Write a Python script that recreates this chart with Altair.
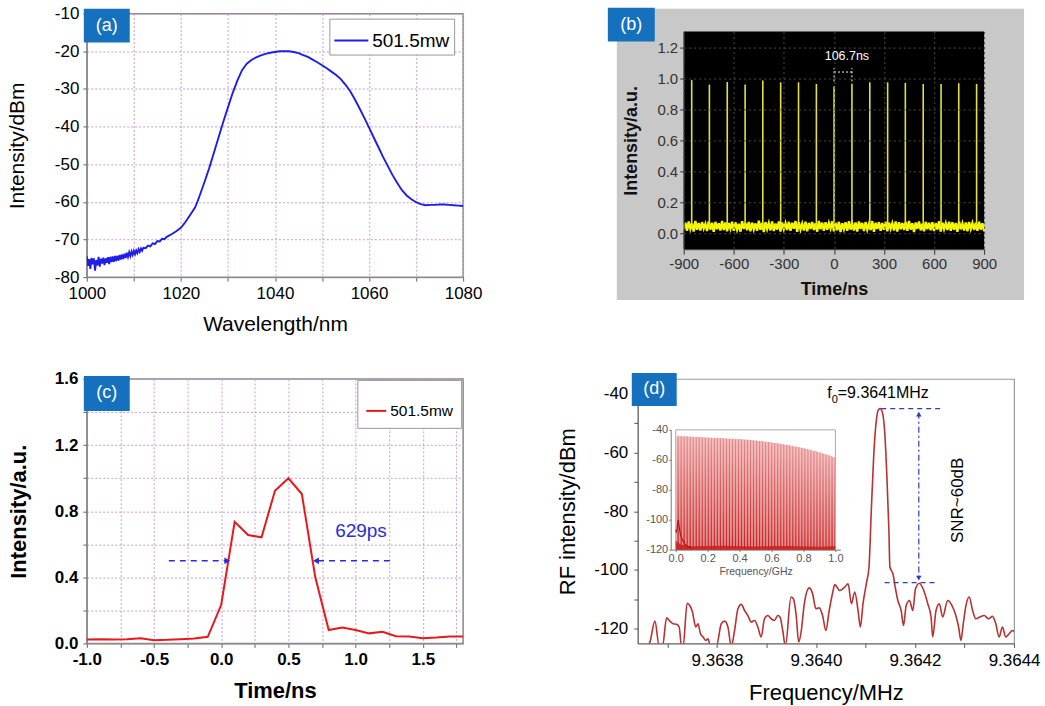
import altair as alt
import pandas as pd

FONT = "Liberation Sans"
LABEL_BLUE = "#1570be"
GRID_PINK = "#c99bd0"
MINUS = "\u2212"

panel_labels = ["(a)", "(b)", "(c)", "(d)"]
legend_label = "501.5mw"

# ---------------- (a) optical spectrum ----------------
a_wl = [1000 + 0.25 * i for i in range(49)] + [
    1012.5, 1013, 1013.5, 1014, 1014.5, 1015, 1015.5, 1016, 1016.5, 1017,
    1018, 1019, 1020, 1021, 1022, 1023, 1023.5, 1024, 1025, 1026, 1027, 1028,
    1029, 1030, 1031, 1032, 1033, 1034, 1035, 1036, 1037, 1038, 1039, 1040,
    1041, 1042, 1043, 1044, 1045, 1046, 1047, 1048, 1049, 1050, 1051, 1052,
    1053, 1054, 1055, 1056, 1057, 1058, 1059, 1060, 1061, 1062, 1063, 1064,
    1065, 1066, 1067, 1068, 1069, 1070, 1071, 1072, 1073, 1074, 1075, 1076,
    1077, 1078, 1079, 1080]
a_db = [
    -74.5, -77.0, -75.2, -77.8, -74.9, -76.6, -75.0, -78.3, -75.5, -76.9,
    -74.6, -77.2, -75.1, -76.4, -74.8, -76.8, -75.0, -76.2, -74.7, -76.5,
    -74.6, -76.0, -74.5, -75.9, -74.4, -75.7, -74.3, -75.6, -74.1, -75.3,
    -74.0, -75.2, -73.8, -74.9, -73.5, -74.6, -73.4, -74.4, -73.2, -74.1,
    -73.0, -73.9, -72.9, -73.6, -72.6, -73.3, -72.4, -73.0, -72.2,
    -72.3, -71.6, -71.8, -71.0, -71.2, -70.4, -70.5, -69.8, -69.9, -69.3,
    -68.6, -67.8, -66.9, -65.3, -63.4, -61.5, -60.0, -58.3, -54.8, -51.1,
    -47.0, -42.9, -38.8, -34.9, -31.1, -27.8, -25.0, -23.3, -22.3, -21.6,
    -21.1, -20.7, -20.4, -20.2, -20.0, -19.95, -20.0, -20.2, -20.5, -21.0,
    -21.5, -22.2, -22.9, -23.7, -24.5, -25.4, -26.3, -27.4, -28.9, -30.6,
    -32.8, -35.2, -37.7, -40.3, -42.9, -45.5, -48.1, -50.5, -52.9, -55.0,
    -56.9, -58.3, -59.3, -60.1, -60.6, -60.9, -60.8, -60.8, -60.7, -60.7,
    -60.8, -60.9, -61.0, -61.1]

# ---------------- (b) pulse train ----------------
b_pulse_t = [-852, -746, -639, -532, -426, -319, -212, -105, 1, 108, 215,
             322, 428, 535, 642, 748, 855]
b_pulse_h = [0.988, 0.959, 0.976, 0.959, 0.985, 0.974, 0.974, 0.963, 0.948,
             0.965, 0.974, 0.974, 0.970, 0.963, 0.963, 0.968, 0.963]
b_noise_t = list(range(-900, 901, 10))
b_noise_v = [
    0.028, 0.071, 0.019, 0.078, 0.031, 0.066, 0.014, 0.082, 0.025, 0.069,
    0.021, 0.074, 0.033, 0.063, 0.017, 0.079, 0.026, 0.070, 0.012, 0.076,
    0.029, 0.067, 0.020, 0.081, 0.024, 0.072, 0.016, 0.068, 0.032, 0.077,
    0.018, 0.073, 0.027, 0.064, 0.013, 0.080, 0.030, 0.069, 0.022, 0.075,
    0.015, 0.071, 0.028, 0.066, 0.019, 0.083, 0.025, 0.070, 0.011, 0.074,
    0.031, 0.068, 0.021, 0.078, 0.017, 0.065, 0.026, 0.079, 0.014, 0.072,
    0.029, 0.067, 0.023, 0.076, 0.018, 0.070, 0.032, 0.081, 0.012, 0.073,
    0.027, 0.064, 0.020, 0.077, 0.016, 0.069, 0.030, 0.075, 0.024, 0.066,
    0.013, 0.082, 0.028, 0.071, 0.019, 0.074, 0.025, 0.068, 0.033, 0.079,
    0.015, 0.070, 0.022, 0.076, 0.010, 0.067, 0.029, 0.073, 0.018, 0.080,
    0.026, 0.065, 0.021, 0.072, 0.014, 0.078, 0.031, 0.069, 0.017, 0.075,
    0.027, 0.063, 0.023, 0.081, 0.012, 0.070, 0.030, 0.074, 0.019, 0.068,
    0.025, 0.077, 0.016, 0.071, 0.032, 0.066, 0.020, 0.079, 0.013, 0.073,
    0.028, 0.069, 0.024, 0.075, 0.018, 0.082, 0.026, 0.067, 0.011, 0.072,
    0.031, 0.078, 0.021, 0.064, 0.015, 0.076, 0.029, 0.070, 0.022, 0.074,
    0.017, 0.068, 0.027, 0.080, 0.014, 0.071, 0.030, 0.066, 0.023, 0.077,
    0.019, 0.073, 0.025, 0.069, 0.012, 0.079, 0.028, 0.065, 0.020, 0.072,
    0.016, 0.075, 0.031, 0.068, 0.024, 0.070, 0.018, 0.077, 0.026, 0.067,
    0.015]
b_period_label = "106.7ns"

# ---------------- (c) pulse profile ----------------
c_t = [-1.0, -0.9, -0.8, -0.7, -0.6, -0.5, -0.4, -0.3, -0.2, -0.1, 0.0, 0.1,
       0.2, 0.3, 0.4, 0.5, 0.6, 0.7, 0.8, 0.9, 1.0, 1.1, 1.2, 1.3, 1.4, 1.5,
       1.6, 1.7, 1.8]
c_i = [0.024, 0.026, 0.024, 0.026, 0.032, 0.020, 0.022, 0.026, 0.030, 0.040,
       0.234, 0.736, 0.656, 0.642, 0.924, 0.999, 0.904, 0.400, 0.081, 0.097,
       0.081, 0.061, 0.071, 0.044, 0.042, 0.032, 0.036, 0.042, 0.042]
c_width_label = "629ps"

# ---------------- (d) RF spectrum ----------------
d_f = [9.363658, 9.3636646, 9.3636746, 9.3636833, 9.36369, 9.3636981,
       9.3637048, 9.3637115, 9.3637182, 9.3637236, 9.3637283, 9.3637316,
       9.3637397, 9.363745, 9.3637504, 9.3637571, 9.3637618, 9.3637665,
       9.3637719, 9.3637772, 9.3637819, 9.3637866, 9.3637987, 9.3638087,
       9.3638154, 9.3638221, 9.3638288, 9.3638355, 9.3638423, 9.363849,
       9.3638557, 9.3638624, 9.3638691, 9.3638758, 9.3638825, 9.3638892,
       9.3638959, 9.3639026, 9.3639093, 9.363916, 9.3639227, 9.3639274,
       9.3639328, 9.3639381, 9.3639495, 9.3639542, 9.3639596, 9.363965,
       9.3639703, 9.3639763, 9.3639864, 9.3639931, 9.3639998, 9.3640064,
       9.3640132, 9.3640199, 9.3640266, 9.3640333, 9.364038, 9.364048,
       9.364058, 9.3640648, 9.3640715, 9.3640782, 9.3640849, 9.3640896,
       9.3640949, 9.3641016, 9.364107, 9.3641117, 9.3641164, 9.3641218,
       9.3641264, 9.3641298, 9.3641338, 9.3641385, 9.3641432, 9.3641472,
       9.3641492, 9.3641519, 9.3641553, 9.3641599, 9.3641653, 9.364172,
       9.3641767, 9.3641821, 9.3641888, 9.3641955, 9.3642009, 9.3642089,
       9.3642176, 9.3642257, 9.3642324, 9.3642357, 9.3642424, 9.3642491,
       9.3642558, 9.3642659, 9.3642746, 9.3642813, 9.364288, 9.3642927,
       9.3642974, 9.3643028, 9.3643095, 9.3643162, 9.3643229, 9.3643309,
       9.3643396, 9.3643483, 9.3643564, 9.3643631, 9.3643698, 9.3643765,
       9.3643832, 9.36439, 9.3643966, 9.3644]
d_db = [-127, -124.5, -117.4, -126, -126, -116.3, -117.4, -118.3, -118.5,
        -119.4, -126, -126, -111.3, -112.1, -114.3, -119.4, -118.3, -121.7,
        -122.8, -124, -123.4, -126, -126, -118.3, -117.4, -119.4, -126,
        -120.6, -113.2, -111.7, -113.8, -115.5, -117.7, -117.2, -119.4,
        -122.8, -116.6, -115.5, -116.6, -117.2, -115.5, -116.1, -120.6, -126,
        -109.2, -109.8, -114.9, -124.5, -120.6, -111.5, -106.1, -108.1,
        -113.2, -112.9, -115.5, -120.6, -113.8, -108, -105, -107, -105.8,
        -104.7, -111.5, -107.5, -113.8, -119.4, -111.5, -104.7, -99, -79.7,
        -61.6, -49.1, -45.4, -45.1, -46.2, -52.5, -68.4, -86.5, -99, -100.1,
        -101.3, -105.8, -110.4, -113.8, -118.9, -112.1, -110.4, -113.8,
        -106.4, -104.5, -107, -111.5, -116, -122.8, -113.8, -111.5, -116,
        -110.4, -112.1, -114.9, -119.4, -124, -118.3, -112.1, -109.2, -113.8,
        -116.6, -116, -115.5, -116.6, -115.8, -118.3, -122.8, -119.4, -122.8,
        -121.7, -120.6, -121]
d_f0_label = "=9.3641MHz"
d_snr_label = "SNR~60dB"

# inset: RF comb 0-1 GHz
inset_g = [
    0.0094, 0.0187, 0.0281, 0.0375, 0.0468, 0.0562, 0.0655, 0.0749, 0.0843, 0.0936,
    0.1030, 0.1124, 0.1217, 0.1311, 0.1405, 0.1498, 0.1592, 0.1686, 0.1779, 0.1873,
    0.1966, 0.2060, 0.2154, 0.2247, 0.2341, 0.2435, 0.2528, 0.2622, 0.2716, 0.2809,
    0.2903, 0.2997, 0.3090, 0.3184, 0.3277, 0.3371, 0.3465, 0.3558, 0.3652, 0.3746,
    0.3839, 0.3933, 0.4027, 0.4120, 0.4214, 0.4307, 0.4401, 0.4495, 0.4588, 0.4682,
    0.4776, 0.4869, 0.4963, 0.5057, 0.5150, 0.5244, 0.5338, 0.5431, 0.5525, 0.5618,
    0.5712, 0.5806, 0.5899, 0.5993, 0.6087, 0.6180, 0.6274, 0.6368, 0.6461, 0.6555,
    0.6649, 0.6742, 0.6836, 0.6929, 0.7023, 0.7117, 0.7210, 0.7304, 0.7398, 0.7491,
    0.7585, 0.7679, 0.7772, 0.7866, 0.7960, 0.8053, 0.8147, 0.8240, 0.8334, 0.8428,
    0.8521, 0.8615, 0.8709, 0.8802, 0.8896, 0.8990, 0.9083, 0.9177, 0.9270, 0.9364,
    0.9458, 0.9551, 0.9645, 0.9739, 0.9832, 0.9926]
inset_p = [
    -44.2, -44.0, -44.3, -44.1, -44.4, -44.3, -44.5, -44.2, -44.6, -44.4,
    -44.5, -44.7, -44.6, -44.8, -44.6, -44.9, -44.8, -45.0, -44.9, -45.1,
    -45.0, -45.2, -45.1, -45.3, -45.2, -45.4, -45.3, -45.5, -45.4, -45.6,
    -45.5, -45.7, -45.6, -45.8, -45.7, -45.9, -45.8, -46.0, -45.9, -46.1,
    -46.0, -46.2, -46.1, -46.3, -46.3, -46.5, -46.4, -46.6, -46.6, -46.8,
    -46.8, -47.0, -47.0, -47.2, -47.2, -47.4, -47.4, -47.6, -47.7, -47.9,
    -47.9, -48.1, -48.2, -48.4, -48.5, -48.7, -48.8, -49.0, -49.1, -49.3,
    -49.4, -49.6, -49.8, -50.0, -50.1, -50.3, -50.5, -50.7, -50.9, -51.1,
    -51.3, -51.5, -51.7, -51.9, -52.1, -52.3, -52.6, -52.8, -53.1, -53.3,
    -53.6, -53.9, -54.1, -54.4, -54.7, -55.0, -55.3, -55.6, -55.9, -56.2,
    -56.5, -56.8, -57.2, -57.5, -57.9, -58.3]
inset_floor_g = [0.0, 0.03, 0.1, 0.3, 0.5, 0.7, 0.9, 1.0]
inset_floor_p = [-114.0, -116.5, -117.8, -117.4, -117.9, -117.5, -118.0, -117.8]
inset_bump_g = [0.0, 0.004, 0.009, 0.013, 0.017, 0.022, 0.03, 0.04, 0.055, 0.075, 0.1]
inset_bump_p = [-107, -108, -106, -101, -100.5, -105, -110, -113, -116, -118, -119]

one = pd.DataFrame({"k": [0]})


def deco_rect(x1, x2, y1, y2, color, opacity=1.0):
    return alt.Chart(one).mark_rect(color=color, opacity=opacity).encode(
        x=alt.value(x1), x2=alt.value(x2), y=alt.value(y1), y2=alt.value(y2))


def deco_text(txt, x, y, size=18, color="white"):
    return alt.Chart(one).mark_text(
        text=txt, fontSize=size, color=color, align="center",
        baseline="middle").encode(x=alt.value(x), y=alt.value(y))


def hyph(expr):
    return "replace(" + expr + ", '" + MINUS + "', '-')"


# ======================= panel (a) =======================
df_a = pd.DataFrame({"wl": a_wl, "db": a_db, "s": legend_label})
ax = alt.X("wl:Q", scale=alt.Scale(domain=[1000, 1080], nice=False, zero=False),
           axis=alt.Axis(values=list(range(1000, 1081, 10)),
                         labelExpr="datum.value % 20 == 0 ? '' + datum.value : ''",
                         grid=True, gridColor=GRID_PINK, gridDash=[2, 2],
                         tickSize=4, tickColor="#666", domainColor="#888",
                         labelFontSize=17, labelColor="black", labelPadding=4,
                         labelFlush=False, labelOverlap=False,
                         title="Wavelength/nm", titleFontSize=21,
                         titleFontWeight="normal", titleColor="black",
                         titleX=188.5, titleY=47, titleBaseline="middle"))
ay = alt.Y("db:Q", scale=alt.Scale(domain=[-80, -10], nice=False, zero=False),
           axis=alt.Axis(values=list(range(-80, -9, 10)),
                         labelExpr="'' + datum.value",
                         grid=True, gridColor=GRID_PINK, gridDash=[2, 2],
                         tickSize=4, tickColor="#666", domainColor="#888",
                         labelFontSize=17, labelColor="black", labelPadding=4,
                         labelOverlap=False,
                         title="Intensity/dBm", titleFontSize=21,
                         titleFontWeight="normal", titleColor="black",
                         titleX=-69, titleY=132, titleBaseline="middle"))
line_a = alt.Chart(df_a).mark_line(strokeWidth=1.9, clip=True).encode(
    x=ax, y=ay,
    color=alt.Color("s:N", scale=alt.Scale(range=["#1e1ee6"]),
                    legend=alt.Legend(title=None, orient="none", legendX=243,
                                      legendY=5, padding=4, strokeColor="#999",
                                      fillColor="white", labelFontSize=19,
                                      labelColor="black", labelOffset=3,
                                      symbolType="stroke", symbolSize=1156,
                                      symbolStrokeWidth=2)))
panel_a = alt.layer(
    deco_rect(-86, 959, -12, 694, "white", 0.0),
    line_a,
    deco_rect(-3, 43, -5, 29, LABEL_BLUE),
    deco_text(panel_labels[0], 20, 12),
).properties(width=377, height=264,
             view=alt.ViewBackground(stroke="#888", strokeWidth=1.5))

# ======================= panel (b) =======================
b_xscale = alt.Scale(domain=[-900, 900], nice=False, zero=False)
b_xaxis = alt.Axis(values=[-900, -600, -300, 0, 300, 600, 900],
                   labelExpr="'' + datum.value",
                   grid=True, gridColor="#4a4a4a", gridDash=[2, 3],
                   tickSize=5, tickColor="#333", domainColor="#333",
                   labelFontSize=15, labelColor="#333", labelPadding=2,
                   labelFlush=False, labelOverlap=False,
                   title="Time/ns", titleFontSize=18, titleFontWeight="bold",
                   titleColor="#111", titleX=150.5, titleY=40,
                   titleBaseline="middle", zindex=1)
b_yscale = alt.Scale(domain=[-0.1, 1.3], nice=False, zero=False)
b_yaxis = alt.Axis(values=[0, 0.2, 0.4, 0.6, 0.8, 1.0, 1.2], format=".1f",
                   grid=True, gridColor="#4a4a4a", gridDash=[2, 3],
                   tickSize=4, tickColor="#333", domainColor="#333",
                   labelFontSize=15, labelColor="#333", labelPadding=2,
                   labelOverlap=False,
                   title="Intensity/a.u.", titleFontSize=18,
                   titleFontWeight="bold", titleColor="#111",
                   titleX=-52, titleY=109, titleBaseline="middle", zindex=1)
bx = alt.X("t:Q", scale=b_xscale, axis=b_xaxis)
by = alt.Y("v:Q", scale=b_yscale, axis=b_yaxis)
df_bn = pd.DataFrame({"t": b_noise_t, "v": b_noise_v})
df_bp = pd.DataFrame({"t": b_pulse_t, "v": b_pulse_h, "v0": 0.045})
noise_b = alt.Chart(df_bn).mark_line(color="#f6f600", strokeWidth=2.4).encode(x=bx, y=by)
pulses_b = alt.Chart(df_bp).mark_rule(color="#e2e23a", strokeWidth=1.6).encode(
    x=bx, y=alt.Y("v0:Q", scale=b_yscale, axis=b_yaxis), y2="v:Q")
df_bann = pd.DataFrame({"t": [1], "t2": [108], "v": [1.04]})
ann_b = alt.Chart(df_bann).mark_rule(color="white", strokeDash=[2, 2], strokeWidth=1).encode(
    x=bx, x2="t2:Q", y=by)
df_bend = pd.DataFrame({"t": [1, 108], "v": [0.98, 0.98], "v2": [1.065, 1.065]})
ends_b = alt.Chart(df_bend).mark_rule(color="white", strokeDash=[2, 2], strokeWidth=1).encode(
    x=bx, y=by, y2="v2:Q")
df_btxt = pd.DataFrame({"t": [78], "v": [1.146], "label": [b_period_label]})
txt_b = alt.Chart(df_btxt).mark_text(color="white", fontSize=12.5).encode(
    x=bx, y=by, text="label:N")
panel_b = alt.layer(
    deco_rect(-67, 341, -23, 269, "#c8c8c8"),
    deco_rect(0, 301, 0, 218, "black"),
    noise_b, pulses_b, ann_b, ends_b, txt_b,
    deco_rect(-76, -29, -24, 10, LABEL_BLUE),
    deco_text(panel_labels[1], -52.5, -7),
).properties(width=301, height=218)

spacer = alt.Chart(one).mark_point(opacity=0).encode(
    x=alt.value(0), y=alt.value(0)).properties(width=301, height=1)

# ======================= panel (c) =======================
cx = alt.X("t:Q", scale=alt.Scale(domain=[-1.0, 1.8], nice=False, zero=False),
           axis=alt.Axis(values=[-1.0, -0.75, -0.5, -0.25, 0.0, 0.25, 0.5, 0.75,
                                 1.0, 1.25, 1.5, 1.75],
                         labelExpr="round(datum.value * 4) % 2 == 0 ? "
                                   + hyph("format(datum.value, '.1f')") + " : ''",
                         grid=True, gridColor=GRID_PINK, gridDash=[2, 2],
                         tickSize=4, tickColor="#666", domainColor="#888",
                         labelFontSize=17, labelFontWeight="bold",
                         labelColor="black", labelPadding=4,
                         labelFlush=False, labelOverlap=False,
                         title="Time/ns", titleFontSize=22, titleFontWeight="bold",
                         titleColor="black", titleX=188.5, titleY=47,
                         titleBaseline="middle"))
cy = alt.Y("i:Q", scale=alt.Scale(domain=[0, 1.6], nice=False, zero=False),
           axis=alt.Axis(values=[0, 0.2, 0.4, 0.6, 0.8, 1.0, 1.2, 1.4, 1.6],
                         labelExpr="round(datum.value * 5) % 2 == 0 ? "
                                   "format(datum.value, '.1f') : ''",
                         grid=True, gridColor=GRID_PINK, gridDash=[2, 2],
                         tickSize=4, tickColor="#666", domainColor="#888",
                         labelFontSize=17, labelFontWeight="bold",
                         labelColor="black", labelPadding=5, labelOverlap=False,
                         title="Intensity/a.u.", titleFontSize=22,
                         titleFontWeight="bold", titleColor="black",
                         titleX=-68, titleY=132.5, titleBaseline="middle"))
df_c = pd.DataFrame({"t": c_t, "i": c_i, "s": legend_label})
line_c = alt.Chart(df_c).mark_line(strokeWidth=2).encode(
    x=cx, y=cy,
    color=alt.Color("s:N", scale=alt.Scale(range=["#e8191b"]),
                    legend=alt.Legend(title=" ", titleFontSize=10, titlePadding=2,
                                      orient="none", legendX=271, legendY=1,
                                      padding=8, strokeColor="#999",
                                      fillColor="white", labelFontSize=15.5,
                                      labelColor="black", labelOffset=3,
                                      symbolType="stroke", symbolSize=400,
                                      symbolStrokeWidth=2)))
df_carrow = pd.DataFrame({"t": [-0.39, 1.255], "t2": [0.03, 0.72], "i": [0.5, 0.5]})
arrows_c = alt.Chart(df_carrow).mark_rule(color="#2a2ae0", strokeDash=[6, 5],
                                          strokeWidth=1.6).encode(x=cx, x2="t2:Q", y=cy)
head_r = alt.Chart(pd.DataFrame({"t": [0.045], "i": [0.5]})).mark_point(
    shape="triangle-right", filled=True, size=45, color="#2a2ae0", opacity=1).encode(x=cx, y=cy)
head_l = alt.Chart(pd.DataFrame({"t": [0.705], "i": [0.5]})).mark_point(
    shape="triangle-left", filled=True, size=45, color="#2a2ae0", opacity=1).encode(x=cx, y=cy)
txt_c = alt.Chart(pd.DataFrame({"t": [1.04], "i": [0.68], "label": [c_width_label]})).mark_text(
    color="#2a2ae0", fontSize=19).encode(x=cx, y=cy, text="label:N")
panel_c = alt.layer(
    line_c, arrows_c, head_r, head_l, txt_c,
    deco_rect(-3, 43, -3, 32, LABEL_BLUE),
    deco_text(panel_labels[2], 20, 14.5),
).properties(width=377, height=265,
             view=alt.ViewBackground(stroke="#888", strokeWidth=1.5))

# ======================= panel (d) =======================
dx = alt.X("f:Q", scale=alt.Scale(domain=[9.36364, 9.3644], nice=False, zero=False),
           axis=alt.Axis(values=[9.3637, 9.3638, 9.3639, 9.364, 9.3641, 9.3642,
                                 9.3643, 9.3644],
                         labelExpr="round(datum.value * 10000) % 2 == 0 ? "
                                   "format(datum.value, '.4f') : ''",
                         grid=False, tickSize=4, tickColor="#555",
                         domainColor="#666", labelFontSize=17, labelColor="black",
                         labelPadding=5, labelFlush=False, labelOverlap=False,
                         title="Frequency/MHz", titleFontSize=22,
                         titleFontWeight="normal", titleColor="black",
                         titleX=188.5, titleY=49, titleBaseline="middle"))
dy = alt.Y("db:Q", scale=alt.Scale(domain=[-125, -35], nice=False, zero=False),
           axis=alt.Axis(values=list(range(-120, -39, 10)),
                         labelExpr="datum.value % 20 == 0 ? '' + datum.value : ''",
                         grid=False, tickSize=4, tickColor="#555",
                         domainColor="#666", labelFontSize=17, labelColor="black",
                         labelPadding=6, labelOverlap=False,
                         title="RF intensity/dBm", titleFontSize=22,
                         titleFontWeight="normal", titleColor="black",
                         titleX=-70, titleY=132.5, titleBaseline="middle"))
df_d = pd.DataFrame({"f": d_f, "db": d_db})
curve_d = alt.Chart(df_d).mark_line(color="#b83232", strokeWidth=1.6, clip=True,
                                    interpolate="monotone").encode(x=dx, y=dy)
DBLUE = "#2a3cc8"
df_dh = pd.DataFrame({"f": [9.3641318, 9.3641386], "f2": [9.3642558, 9.3642458],
                      "db": [-45.1, -104.3]})
hdash_d = alt.Chart(df_dh).mark_rule(color=DBLUE, strokeDash=[5, 4],
                                     strokeWidth=1.2).encode(x=dx, x2="f2:Q", y=dy)
df_dv = pd.DataFrame({"f": [9.3642076], "db": [-46.5], "db2": [-103.2]})
vdash_d = alt.Chart(df_dv).mark_rule(color=DBLUE, strokeDash=[6, 3, 2, 3],
                                     strokeWidth=1.2).encode(x=dx, y=dy, y2="db2:Q")
head_up = alt.Chart(pd.DataFrame({"f": [9.3642076], "db": [-47.0]})).mark_point(
    shape="triangle-up", filled=True, size=30, color=DBLUE, opacity=1).encode(x=dx, y=dy)
head_dn = alt.Chart(pd.DataFrame({"f": [9.3642076], "db": [-102.8]})).mark_point(
    shape="triangle-down", filled=True, size=30, color=DBLUE, opacity=1).encode(x=dx, y=dy)
f_txt = alt.Chart(pd.DataFrame({"f": [9.3640226], "db": [-39.8], "label": ["f"]})).mark_text(
    align="left", baseline="middle", fontSize=16, color="black").encode(x=dx, y=dy, text="label:N")
f_sub = alt.Chart(pd.DataFrame({"f": [9.3640318], "db": [-42.0], "label": ["0"]})).mark_text(
    align="left", baseline="middle", fontSize=11, color="black").encode(x=dx, y=dy, text="label:N")
f_val = alt.Chart(pd.DataFrame({"f": [9.364044], "db": [-39.8], "label": [d_f0_label]})).mark_text(
    align="left", baseline="middle", fontSize=16, color="black").encode(x=dx, y=dy, text="label:N")
snr_txt = alt.Chart(pd.DataFrame({"f": [9.364286], "db": [-76.3], "label": [d_snr_label]})).mark_text(
    angle=270, align="center", baseline="middle", fontSize=17, color="black").encode(
    x=dx, y=dy, text="label:N")
d_main = alt.layer(curve_d, hdash_d, vdash_d, head_up, head_dn, f_txt, f_sub, f_val,
                   snr_txt,
                   deco_rect(-6, 39, -6, 27, LABEL_BLUE),
                   deco_text(panel_labels[3], 16.5, 10.5))

gx = alt.X("g:Q", scale=alt.Scale(domain=[0, 1], range=[33, 203], nice=False, zero=False),
           axis=alt.Axis(orient="bottom", offset=-94,
                         values=[0, 0.2, 0.4, 0.6, 0.8, 1.0], format=".1f",
                         tickSize=2, tickColor="#777", domainColor="#777",
                         labelFontSize=11, labelColor="#555", labelPadding=1,
                         labelFlush=False, labelOverlap=False,
                         title="Frequency/GHz", titleFontSize=10.5,
                         titleFontWeight="normal", titleColor="#555",
                         titleX=118, titleY=22, titleBaseline="middle"))
gy = alt.Y("p:Q", scale=alt.Scale(domain=[-120, -40], range=[171, 51], nice=False, zero=False),
           axis=alt.Axis(orient="left", offset=-33,
                         values=[-120, -100, -80, -60, -40],
                         labelExpr="'' + datum.value",
                         tickSize=2, tickColor="#777", domainColor="#777",
                         labelFontSize=11, labelColor="#555", labelPadding=1,
                         labelOverlap=False, title=""))
inset_bg = alt.Chart(pd.DataFrame({"g": [0], "g2": [1], "p": [-120], "p2": [-40]})).mark_rect(
    fill="white", stroke="#aaa", strokeWidth=1).encode(x=gx, x2="g2:Q", y=gy, y2="p2:Q")
grad = alt.Gradient(gradient="linear",
                    stops=[alt.GradientStop(offset=0, color="#e68c8c"),
                           alt.GradientStop(offset=1, color="#c81e1e")],
                    x1=0, x2=0, y1=0, y2=1)
inset_bars = alt.Chart(pd.DataFrame({"g": inset_g, "p": inset_p, "p0": -120})).mark_bar(
    width=1.1, color=grad).encode(x=gx, y=gy, y2="p0:Q")
inset_floor = alt.Chart(pd.DataFrame({"g": inset_floor_g, "p": inset_floor_p, "p0": -120})).mark_area(
    color="#c81e1e", opacity=0.85).encode(x=gx, y=gy, y2="p0:Q")
inset_bump = alt.Chart(pd.DataFrame({"g": inset_bump_g, "p": inset_bump_p})).mark_line(
    color="#b81414", strokeWidth=1.2).encode(x=gx, y=gy)
d_inset = alt.layer(inset_bg, inset_bars, inset_floor, inset_bump)

panel_d = alt.layer(d_main, d_inset).resolve_scale(
    x="independent", y="independent").properties(
    width=377, height=265, view=alt.ViewBackground(stroke="#999", strokeWidth=1.2))

# ======================= layout =======================
# with flush bounds a nested row counts as zero height, so the row spacing
# is the full distance between the two rows' plot tops (12 -> 378)
row1 = alt.hconcat(panel_a, alt.vconcat(spacer, panel_b, spacing=17, bounds="flush"),
                   spacing=221, bounds="flush")
row2 = alt.hconcat(panel_c, panel_d, spacing=175, bounds="flush")
chart = alt.vconcat(row1, row2, spacing=366, bounds="flush").resolve_scale(
    color="independent").properties(
    padding=0, autosize=alt.AutoSizeParams(type="pad")).configure(
    font=FONT).configure_view(strokeWidth=0)

chart.save("out.html", embed_options={"renderer": "svg", "actions": False})
